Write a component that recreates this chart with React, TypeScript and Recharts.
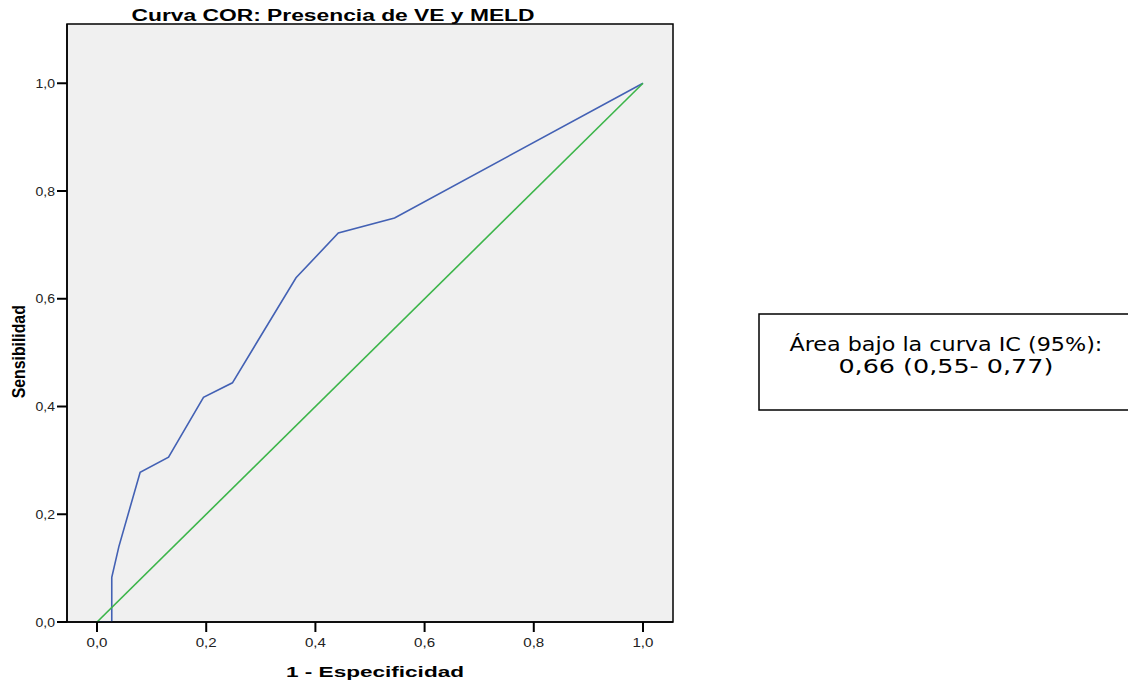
import React from "react";
import { LineChart, Line, XAxis, YAxis, ReferenceArea, CartesianGrid, Label } from "recharts";

// ROC curve points (1 - especificidad, sensibilidad)
const rocFpr = [0, 0.027, 0.027, 0.04, 0.079, 0.131, 0.195, 0.248, 0.3645, 0.442, 0.545, 1];
const rocTpr = [0, 0, 0.083, 0.14, 0.278, 0.306, 0.417, 0.444, 0.639, 0.722, 0.75, 1];
// Reference diagonal
const refFpr = [0, 1];
const refTpr = [0, 1];
// Axis ticks
const xTicks = [0, 0.2, 0.4, 0.6, 0.8, 1.0];
const yTicks = [0, 0.2, 0.4, 0.6, 0.8, 1.0];
const xDomain = [-0.055, 1.055];
const yDomain = [0, 1.11];

const title = "Curva COR: Presencia de VE y MELD";
const xTitle = "1 - Especificidad";
const yTitle = "Sensibilidad";
const boxLine1 = "Área bajo la curva IC (95%):";
const boxLine2 = "0,66 (0,55- 0,77)";

const rocData = rocFpr.map((x, i) => ({ x, y: rocTpr[i] }));
const refData = refFpr.map((x, i) => ({ x, y: refTpr[i] }));

const fmt = (v: number) => v.toFixed(1).replace(".", ",");
const FONT = "'Liberation Sans', Arial, sans-serif";
const BOXFONT = "'DejaVu Sans', Verdana, sans-serif";

const XTick = (props: any) => {
  const { x, y, payload } = props;
  return (
    <text x={x} y={y + 13.3} textAnchor="middle" fontFamily={FONT} fontSize={12.5} fill="#222"
      textLength={21} lengthAdjust="spacingAndGlyphs">
      {fmt(payload.value)}
    </text>
  );
};

const YTick = (props: any) => {
  const { x, y, payload } = props;
  return (
    <text x={x} y={y + 4.5} textAnchor="end" fontFamily={FONT} fontSize={12.5} fill="#222"
      textLength={19.5} lengthAdjust="spacingAndGlyphs">
      {fmt(payload.value)}
    </text>
  );
};

export default function App() {
  return (
    <div style={{ position: "relative", width: 1128, height: 676 }}>
      <LineChart width={1128} height={676} margin={{ top: 16, right: 463, left: 0, bottom: 0 }}>
        <CartesianGrid horizontal={false} vertical={false} fill="#f0f0f0" />
        <ReferenceArea x1={xDomain[0]} x2={xDomain[1]} y1={yDomain[0]} y2={yDomain[1]}
          fill="none" stroke="#000" strokeWidth={1.5} ifOverflow="visible" />
        <XAxis type="number" dataKey="x" domain={xDomain} ticks={xTicks} allowDataOverflow
          height={62} tickSize={10} tick={<XTick />} interval={0}
          axisLine={{ stroke: "#000", strokeWidth: 1.5 }} tickLine={{ stroke: "#000", strokeWidth: 2 }}>
          <Label content={() => (
            <text x={367} y={669.3} textAnchor="middle" fontFamily={FONT} fontWeight="bold" fontSize={14.5}
              fill="#000" textLength={178} lengthAdjust="spacingAndGlyphs">{xTitle}</text>
          )} />
        </XAxis>
        <YAxis type="number" domain={yDomain} ticks={yTicks} allowDataOverflow width={59}
          tickSize={10} tick={<YTick />} interval={0}
          axisLine={{ stroke: "#000", strokeWidth: 1.5 }} tickLine={{ stroke: "#000", strokeWidth: 2 }}>
          <Label content={() => (
            <text x={17} y={343.7} transform="rotate(-90 17 343.7)" textAnchor="middle" fontFamily={FONT}
              fontWeight="bold" fontSize={18} fill="#000" textLength={93} lengthAdjust="spacingAndGlyphs">{yTitle}</text>
          )} />
        </YAxis>
        <Line data={rocData} dataKey="y" type="linear" stroke="#4361b4" strokeWidth={1.6} dot={false}
          isAnimationActive={false} />
        <Line data={refData} dataKey="y" type="linear" stroke="#3cb54a" strokeWidth={1.6} dot={false}
          isAnimationActive={false} />
      </LineChart>
      <svg width={1128} height={676} style={{ position: "absolute", left: 0, top: 0, pointerEvents: "none" }}>
        <text x={325} y={13} textAnchor="middle" fontFamily={FONT} fontWeight="bold" fontSize={16}
          fill="#000" textLength={403} lengthAdjust="spacingAndGlyphs">{title}</text>
        <rect x={751} y={306} width={372.7} height={96} fill="#fff" stroke="#000" strokeWidth={1.5} />
        <text x={937.9} y={342.7} textAnchor="middle" fontFamily={BOXFONT}
          fontSize={19.5} fill="#000" textLength={313} lengthAdjust="spacingAndGlyphs">{boxLine1}</text>
        <text x={937.9} y={364.7} textAnchor="middle" fontFamily={BOXFONT}
          fontSize={19.5} fill="#000" textLength={215} lengthAdjust="spacingAndGlyphs">{boxLine2}</text>
      </svg>
    </div>
  );
}
